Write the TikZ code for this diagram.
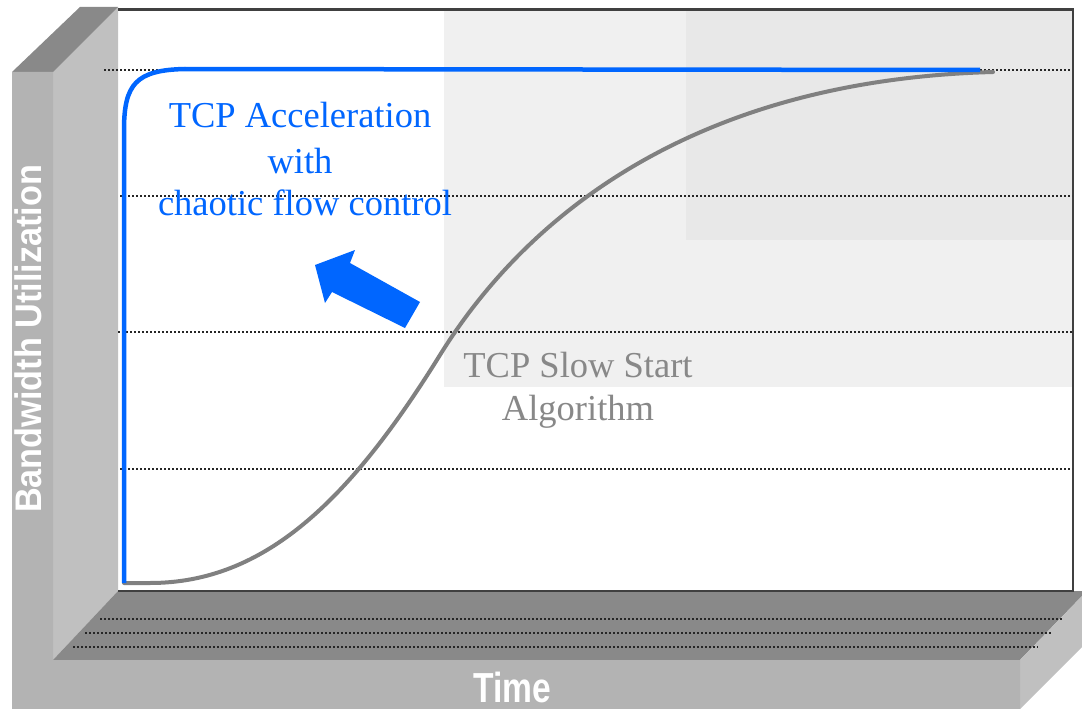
\documentclass[tikz,border=0pt]{standalone}
\usepackage{fontspec}
\setmainfont{Liberation Serif}
\newfontfamily\labelsans{Liberation Sans}
\definecolor{accblue}{RGB}{0,102,255}
\definecolor{slowgray}{RGB}{128,128,128}
\definecolor{slowtext}{RGB}{136,136,136}
\definecolor{wallfront}{RGB}{179,179,179}
\definecolor{wallside}{RGB}{192,192,192}
\definecolor{walltop}{RGB}{137,137,137}
\definecolor{bgone}{RGB}{240,240,240}
\definecolor{bgtwo}{RGB}{232,232,232}
\definecolor{framecol}{RGB}{64,64,64}
\tikzset{
  gridline/.style={line width=1.4pt, dash pattern=on 1.6pt off 2.4pt, black!85},
  bluetext/.style={text=accblue, inner sep=0pt, anchor=base, font=\fontsize{36.5}{40}\selectfont},
  graytext/.style={text=slowtext, inner sep=0pt, anchor=base, font=\fontsize{36.5}{40}\selectfont},
  axislabel/.style={text=white, inner sep=0pt, font=\labelsans\bfseries},
}
\begin{document}
\begin{tikzpicture}[x=1pt,y=-1pt]
\useasboundingbox (0,0) rectangle (1082,709);
\fill[white] (0,0) rectangle (1082,709);
% plot backgrounds
\fill[bgone] (444,10) rectangle (1073,387);
\fill[bgtwo] (686,10) rectangle (1073,240);
% 3D base
\fill[wallside] (53,72) -- (118,7) -- (118,591) -- (53,660) -- cycle;
\fill[walltop] (12,72) -- (80,7) -- (118,7) -- (53,72) -- cycle;
\fill[walltop] (118,591) -- (1082,591) -- (1082,596) -- (1020,660) -- (53,660) -- cycle;
\fill[wallside] (1082,596) -- (1020,660) -- (1020,709) -- (1082,647) -- cycle;
\fill[wallfront] (12,72) -- (53,72) -- (53,660) -- (1020,660) -- (1020,709) -- (12,709) -- cycle;
% floor dotted lines
\draw[gridline] (100,619) -- (1063,619);
\draw[gridline] (85,633) -- (1052,633);
\draw[gridline] (73,647) -- (1038,647);
% frame
\draw[framecol, line width=2.5pt] (118,9.5) -- (1073,9.5) -- (1073,591) -- (118,591);
% horizontal grid lines
\draw[gridline] (104,70) -- (1070,70);
\draw[gridline] (120,196) -- (1072,196);
\draw[gridline] (118,332) -- (1072,332);
\draw[gridline] (120,469) -- (1072,469);
% slow start curve
\draw[slowgray, line width=4pt, line cap=round]
  (124,583) -- (150,583) .. controls (265,583) and (350,500) .. (440,355)
  .. controls (530,210) and (700,80) .. (993,72);
% accelerated curve
\draw[accblue, line width=4.5pt]
  (124,583) -- (124,130) .. controls (124,84) and (136,70) .. (185,69) -- (980,70);
% arrow
\fill[accblue] (315,265) -- (355,250) -- (350,263) -- (420,302) -- (405,328) -- (332,292) -- (325,303) -- cycle;
% texts
\node[bluetext] (acc1) at (300,128) {TCP Acceleration};
\node[bluetext] (acc2) at (300,173) {with};
\node[bluetext] (acc3) at (305,215) {chaotic flow control};
\node[graytext] (slow1) at (578,377) {TCP Slow Start};
\node[graytext] (slow2) at (578,420) {Algorithm};
\node[axislabel, rotate=90] (ylab) at (28.5,339) {\fontsize{37}{40}\selectfont\scalebox{0.925}[1]{Bandwidth Utilization}};
\node[axislabel] (xlab) at (512.5,687) {\fontsize{42}{44}\selectfont\scalebox{0.8}[1]{Time}};
\end{tikzpicture}
\end{document}
